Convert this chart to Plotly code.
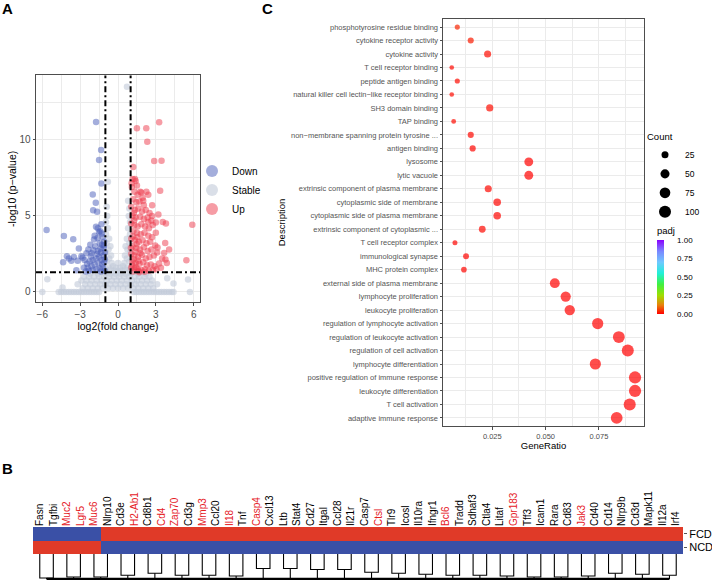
import math
import plotly.graph_objects as go

# ---------------- Panel A : volcano data ----------------
down_x = [-1.74, -1.34, -1.50, -1.32, -2.00, -1.76, -1.97, -1.66, -1.32, -5.66, -4.29, -3.55,
          -1.74, -1.50, -1.62, -3.10, -2.20, -2.35, -2.50, -3.50, -3.90, -2.90, -2.65, -3.30,
          -1.40, -1.20, -1.10, -1.25, -1.45, -1.80, -1.95, -2.10, -1.60, -1.35, -1.15, -1.50,
          -1.75, -2.00, -2.25, -2.45, -1.30, -1.10, -1.55, -1.85, -2.10, -2.70, -1.20, -1.45,
          -1.70, -2.00, -2.30, -1.05, -1.35, -2.55, -1.15, -1.05, -1.25, -1.65, -2.80, -3.20,
          -1.90, -1.28, -1.12, -1.38, -1.05, -2.15, -4.35, -4.05, -3.70, -1.60, -1.85, -2.40]
down_y = [11.19, 9.34, 8.68, 7.14, 6.42, 5.87, 5.38, 5.27, 4.46, 4.07, 3.69, 3.47,
          4.29, 3.95, 3.55, 2.86, 3.10, 2.80, 2.55, 2.30, 2.20, 2.35, 2.10, 1.43,
          4.00, 3.60, 3.30, 3.10, 3.20, 3.00, 2.75, 2.55, 2.70, 2.60, 2.40, 2.30,
          2.20, 2.10, 2.00, 1.85, 2.10, 1.95, 1.90, 1.80, 1.70, 1.60, 1.60, 1.55,
          1.50, 1.45, 1.40, 1.40, 1.35, 1.35, 2.90, 2.60, 1.80, 2.50, 2.25, 2.05,
          3.45, 3.85, 3.05, 2.85, 2.15, 2.35, 1.95, 2.35, 2.05, 4.20, 3.70, 1.60]

up_x = [1.50, 2.24, 3.26, 2.32, 2.87, 3.45, 1.21, 1.16, 1.34, 1.76, 3.34, 2.71, 5.89, 3.55,
        3.80, 3.00, 2.40, 3.74, 3.13, 3.66, 3.76, 3.87, 3.26, 5.42,
        1.10, 1.30, 1.55, 1.85, 1.20, 1.45, 1.70, 2.00, 1.05, 1.35, 1.60, 1.90, 2.20, 2.50,
        2.05, 1.15, 1.40, 1.75, 2.05, 2.35, 2.65, 1.05, 1.30, 1.55, 1.85, 2.15, 2.45, 2.75,
        1.20, 1.50, 1.80, 2.10, 2.40, 2.70, 3.00, 1.05, 1.35, 1.65, 1.95, 2.25, 2.55, 1.15,
        1.45, 1.75, 2.05, 2.35, 2.65, 1.05, 1.30, 1.60, 1.90, 2.20, 2.50, 2.85, 1.15, 1.40,
        1.70, 2.00, 2.30, 2.60, 2.90, 1.05, 1.30, 1.55, 1.85, 2.15, 2.45, 2.75, 3.05, 1.20,
        1.65, 2.10, 1.08, 1.40, 1.50, 2.40, 2.70, 3.20, 1.25, 4.05, 3.50, 3.40, 2.95, 3.10,
        2.25, 1.95, 1.12, 1.22, 1.38, 1.48, 1.62, 1.78, 1.18, 1.42, 1.68, 1.28, 1.52, 1.02]
up_y = [10.77, 10.77, 11.16, 9.89, 8.62, 8.64, 8.22, 7.43, 7.43, 6.59, 6.66, 5.71, 4.42, 4.60,
        4.50, 4.57, 4.60, 3.23, 2.92, 2.57, 2.13, 1.91, 1.87, 2.09,
        6.90, 6.60, 6.40, 6.55, 6.10, 5.90, 5.95, 6.00, 5.60, 5.40, 5.50, 5.30, 5.40, 5.20,
        5.70, 5.00, 4.90, 4.95, 4.80, 4.90, 4.70, 4.50, 4.40, 4.30, 4.45, 4.30, 4.20, 4.40,
        4.00, 3.90, 3.80, 3.90, 3.70, 3.60, 3.90, 3.50, 3.40, 3.30, 3.40, 3.20, 3.30, 3.00,
        2.90, 2.80, 2.95, 2.70, 2.80, 2.50, 2.40, 2.30, 2.45, 2.20, 2.30, 2.40, 2.00, 1.90,
        1.85, 1.95, 1.75, 1.80, 1.70, 1.60, 1.55, 1.50, 1.45, 1.50, 1.40, 1.45, 1.50, 1.35,
        1.38, 1.33, 7.15, 7.30, 7.00, 6.40, 5.00, 5.10, 5.20, 2.80, 2.20, 1.60, 3.05, 2.60,
        6.60, 6.20, 1.75, 2.15, 2.65, 3.15, 2.05, 2.55, 3.65, 1.65, 1.30, 4.70, 3.60, 2.90]

stable_x = [-6.0, -4.7, -4.5, -4.3, -4.1, -3.9, -3.7, -3.5, -3.3, -3.1, -2.9, -2.7, -2.5, -2.3,
            -2.1, -1.9, -1.7, -1.5, 1.25, 1.45, 1.65, 1.85, 2.05, 2.25, 2.45, 2.65, 2.85, 3.05,
            3.25, 3.45, 3.65, 3.85, 4.05, 4.25, 4.40, 5.70,
            -2.8, -2.4, -2.0, -1.6, -1.2, -0.8, -0.4, 0.0, 0.4, 0.8, 1.2, 1.6, 2.0, 2.4, 2.8,
            -3.2, -2.6, -2.2, -1.8, -1.4, -1.0, -0.6, -0.2, 0.2, 0.6, 1.0, 1.4, 1.8, 2.2, 2.6, 3.1,
            -2.9, -2.5, -2.1, -1.7, -1.3, -0.9, -0.5, -0.1, 0.3, 0.7, 1.1, 1.5, 1.9, 2.3, 2.7,
            -2.7, -2.3, -1.9, -1.5, -1.1, -0.7, -0.3, 0.1, 0.5, 0.9, 1.3, 1.7, 2.1, 2.5,
            -2.2, -1.6, -1.0, -0.6, -0.2, 0.2, 0.6, 1.0, 1.6, 2.2,
            -5.6, -4.4, 3.9, 4.4, 5.55,
            -0.95, -0.75, -0.55, -0.90, -0.70, -0.50, -0.95, -0.75, -0.55, -0.90, -0.70, -0.95,
            -0.80, -0.95, -0.85, -0.80, -0.90, -0.60, -0.40, -0.30,
            0.95, 0.75, 0.55, 0.90, 0.70, 0.50, 0.95, 0.75, 0.55, 0.90, 0.70, 0.95,
            0.80, 0.95, 0.85, 0.71, 0.90, 0.60, 0.40, 0.30, 0.80,
            0.0, -0.15, 0.15, 0.0]
stable_y = [0, 0, 0, 0, 0, 0, 0, 0, 0, 0, 0, 0, 0, 0,
            0, 0, 0, 0, 0, 0, 0, 0, 0, 0, 0, 0, 0, 0,
            0, 0, 0, 0, 0, 0, 0, 0,
            0.25, 0.25, 0.25, 0.25, 0.25, 0.25, 0.25, 0.25, 0.25, 0.25, 0.25, 0.25, 0.25, 0.25, 0.25,
            0.5, 0.5, 0.5, 0.5, 0.5, 0.5, 0.5, 0.5, 0.5, 0.5, 0.5, 0.5, 0.5, 0.5, 0.5, 0.5,
            0.75, 0.75, 0.75, 0.75, 0.75, 0.75, 0.75, 0.75, 0.75, 0.75, 0.75, 0.75, 0.75, 0.75, 0.75,
            1.0, 1.0, 1.0, 1.0, 1.0, 1.0, 1.0, 1.0, 1.0, 1.0, 1.0, 1.0, 1.0, 1.0,
            1.2, 1.2, 1.2, 1.2, 1.2, 1.2, 1.2, 1.2, 1.2, 1.2,
            0.84, 0.30, 0.90, 0.55, 0.82,
            1.5, 1.6, 1.5, 2.0, 2.2, 1.9, 2.6, 2.8, 2.4, 3.2, 3.5, 3.8,
            4.2, 4.6, 5.0, 7.25, 5.6, 3.0, 1.7, 1.4,
            1.5, 1.6, 1.5, 2.0, 2.2, 1.9, 2.6, 2.8, 2.4, 3.2, 3.5, 3.8,
            4.2, 4.6, 5.0, 13.5, 5.5, 3.0, 1.7, 1.4, 6.0,
            1.4, 1.6, 1.6, 1.9]

fc_cut = 1.0
p_cut = 0.05

# ---------------- Panel C : GO dot plot data ----------------
go_terms = [
    "phosphotyrosine residue binding",
    "cytokine receptor activity",
    "cytokine activity",
    "T cell receptor binding",
    "peptide antigen binding",
    "natural killer cell lectin\u2212like receptor binding",
    "SH3 domain binding",
    "TAP binding",
    "non\u2212membrane spanning protein tyrosine ...",
    "antigen binding",
    "lysosome",
    "lytic vacuole",
    "extrinsic component of plasma membrane",
    "cytoplasmic side of membrane",
    "cytoplasmic side of plasma membrane",
    "extrinsic component of cytoplasmic ...",
    "T cell receptor complex",
    "immunological synapse",
    "MHC protein complex",
    "external side of plasma membrane",
    "lymphocyte proliferation",
    "leukocyte proliferation",
    "regulation of lymphocyte activation",
    "regulation of leukocyte activation",
    "regulation of cell activation",
    "lymphocyte differentiation",
    "positive regulation of immune response",
    "leukocyte differentiation",
    "T cell activation",
    "adaptive immune response",
]
gene_ratio = [0.0086, 0.0149, 0.0228, 0.0060, 0.0086, 0.0060, 0.0238, 0.0069, 0.0149, 0.0158,
              0.0421, 0.0421, 0.0231, 0.0273, 0.0273, 0.0203, 0.0075, 0.0127, 0.0117, 0.0543,
              0.0594, 0.0613, 0.0744, 0.0843, 0.0885, 0.0733, 0.0919, 0.0919, 0.0894, 0.0833]
go_count = [10, 17, 26, 7, 10, 7, 27, 8, 17, 18,
            48, 48, 26, 31, 31, 23, 9, 15, 13, 62,
            68, 70, 85, 97, 101, 84, 105, 105, 102, 95]
go_padj = [0.035, 0.025, 0.012, 0.008, 0.010, 0.010, 0.012, 0.010, 0.008, 0.006,
           0.002, 0.002, 0.008, 0.006, 0.006, 0.008, 0.006, 0.004, 0.004, 0.001,
           0.001, 0.001, 0.0005, 0.0003, 0.0003, 0.0005, 0.0002, 0.0002, 0.0002, 0.0002]
count_breaks = [25, 50, 75, 100]
padj_breaks = [0.0, 0.25, 0.5, 0.75, 1.0]

# ---------------- Panel B : heatmap data ----------------
genes = ["Fasn", "Tgfbi", "Muc2", "Lgr5", "Muc6", "Nlrp10", "Cd3e", "H2-Ab1", "Cd8b1", "Cd4",
         "Zap70", "Cd3g", "Mmp3", "Ccl20", "Il18", "Tnf", "Casp4", "Cxcl13", "Ltb", "Stat4",
         "Cd27", "Itgal", "Ccl28", "Il21r", "Casp7", "Ctsl", "Tlr9", "Icosl", "Il10ra", "Ifngr1",
         "Bcl6", "Tradd", "Sdhaf3", "Ctla4", "Litaf", "Gpr183", "Tff3", "Icam1", "Rara", "Cd83",
         "Jak3", "Cd40", "Cd14", "Nlrp9b", "Cd3d", "Mapk11", "Il12a", "Irf4"]
highlight_genes = ["Muc2", "Lgr5", "Muc6", "H2-Ab1", "Cd4", "Zap70", "Mmp3", "Il18", "Casp4",
                   "Ctsl", "Bcl6", "Gpr183", "Jak3"]
groups = ["FCD", "NCD"]
fcd_values = [-1, -1, -1, -1, -1, 1, 1, 1, 1, 1, 1, 1, 1, 1, 1, 1, 1, 1, 1, 1, 1, 1, 1, 1,
              1, 1, 1, 1, 1, 1, 1, 1, 1, 1, 1, 1, 1, 1, 1, 1, 1, 1, 1, 1, 1, 1, 1, 1]
ncd_values = [1, 1, 1, 1, 1, -1, -1, -1, -1, -1, -1, -1, -1, -1, -1, -1, -1, -1, -1, -1, -1, -1, -1, -1,
              -1, -1, -1, -1, -1, -1, -1, -1, -1, -1, -1, -1, -1, -1, -1, -1, -1, -1, -1, -1, -1, -1, -1, -1]
# linkage heights of adjacent leaf pairs (root = 1)
dendro_pair_height = [0.96, 0.92, 0.92, 0.85, 0.77, 0.85, 0.85, 0.88, 0.58, 0.58, 0.62, 0.62,
                      0.73, 0.77, 0.81, 0.85, 0.85, 0.88, 0.92, 0.92, 0.88, 0.77, 0.81, 0.85]
dendro_root = 1.0

# ---------------- styling ----------------
W, H = 712, 581
FONT = "Liberation Sans, Arial, Helvetica, sans-serif"
GRID = "#ebebeb"
BORDER = "#4d4d4d"
TXT = "#4d4d4d"


def px_x(p):
    return p / W


def px_y(p):
    return 1 - p / H


fig = go.Figure()

# ---- Panel A traces ----
fig.add_trace(go.Scatter(x=stable_x, y=stable_y, mode="markers", name="Stable", legendrank=2,
                         marker=dict(size=6.5, color="#c2cad8", opacity=0.6, line=dict(width=0)),
                         xaxis="x", yaxis="y", legend="legend", hoverinfo="skip"))
fig.add_trace(go.Scatter(x=down_x, y=down_y, mode="markers", name="Down", legendrank=1,
                         marker=dict(size=6.5, color="#4a5dba", opacity=0.5, line=dict(width=0)),
                         xaxis="x", yaxis="y", legend="legend"))
fig.add_trace(go.Scatter(x=up_x, y=up_y, mode="markers", name="Up", legendrank=3,
                         marker=dict(size=6.5, color="#ee3a4c", opacity=0.5, line=dict(width=0)),
                         xaxis="x", yaxis="y", legend="legend"))


def dot_size(c):
    return 2.0 + math.sqrt(c)


# ---- Panel C traces ----
fig.add_trace(go.Scatter(
    x=gene_ratio, y=go_terms, mode="markers", showlegend=False,
    marker=dict(size=[dot_size(c) for c in go_count], color=go_padj, cmin=0, cmax=1,
                colorscale=[[0, "#ff0000"], [0.12, "#e8800a"], [0.25, "#a0dd00"], [0.4, "#40f040"],
                            [0.55, "#20f0d8"], [0.7, "#70c8ff"], [0.85, "#7a86ff"], [1, "#8a00ff"]],
                line=dict(width=0),
                colorbar=dict(title=dict(text="padj", side="top", font=dict(size=9.5, family=FONT, color="black")),
                              x=px_x(657), xanchor="left", y=px_y(314), yanchor="bottom",
                              len=90, lenmode="pixels", thickness=7, thicknessmode="pixels",
                              xpad=0, ypad=0, outlinewidth=0,
                              tickvals=padj_breaks, ticktext=["%.2f" % v for v in padj_breaks],
                              ticks="outside", ticklen=12, tickcolor="rgba(255,255,255,0)",
                              tickfont=dict(size=8, family=FONT, color="black"))),
    xaxis="x2", yaxis="y2"))

for c in count_breaks:
    fig.add_trace(go.Scatter(x=[None], y=[None], mode="markers", name=str(c), legend="legend2",
                             marker=dict(size=dot_size(c), color="black"), xaxis="x2", yaxis="y2"))

# ---- Panel B traces ----
z = [ncd_values, fcd_values]
fig.add_trace(go.Heatmap(z=z, x=list(range(len(genes))), y=[0, 1], showscale=False,
                         zmin=-1, zmax=1,
                         colorscale=[[0, "#3a50a6"], [0.5, "#3a50a6"], [0.5, "#e03a28"], [1, "#e03a28"]],
                         xaxis="x3", yaxis="y3", hoverinfo="skip"))

DSCALE = 1.85
top = -0.5
root_y = top - dendro_root * DSCALE
dx, dy = [], []
for k, h in enumerate(dendro_pair_height):
    i, j = 2 * k, 2 * k + 1
    ym = top - h * DSCALE
    dx += [i, i, j, j, None]
    dy += [top, ym, ym, top, None]
    mid = (i + j) / 2
    dx += [mid, mid, None]
    dy += [ym, root_y, None]
fig.add_trace(go.Scatter(x=dx, y=dy, mode="lines", line=dict(color="black", width=1.1),
                         showlegend=False, xaxis="x3", yaxis="y3", hoverinfo="skip"))
fig.add_trace(go.Scatter(x=[0.5, len(genes) - 1.5], y=[root_y, root_y], mode="lines",
                         line=dict(color="black", width=2.2),
                         showlegend=False, xaxis="x3", yaxis="y3", hoverinfo="skip"))

ticktext_b = [('<span style="color:#e5201f">%s</span>' % g) if g in highlight_genes else g for g in genes]

# ---------------- layout ----------------
axA = dict(showline=True, mirror=True, linecolor=BORDER, linewidth=1, gridcolor=GRID, gridwidth=1,
           zeroline=False, ticks="outside", ticklen=2.5, tickcolor=BORDER, automargin=False,
           tickfont=dict(size=10, family=FONT, color=TXT))

fig.update_layout(
    width=W, height=H, margin=dict(l=0, r=0, t=0, b=0),
    paper_bgcolor="white", plot_bgcolor="white",
    font=dict(family=FONT, color="black"),
    xaxis=dict(axA, domain=[px_x(36), px_x(200)], range=[-6.5, 6.5], anchor="y",
               tickvals=[-6, -3, 0, 3, 6], ticktext=["\u22126", "\u22123", "0", "3", "6"],
               minor=dict(tickvals=[-4.5, -1.5, 1.5, 4.5], gridcolor=GRID, gridwidth=0.5, ticks=""),
               title=dict(text="log2(fold change)", font=dict(size=10.5, family=FONT), standoff=2)),
    yaxis=dict(axA, domain=[px_y(302.3), px_y(75.4)], range=[-0.68, 14.25], anchor="x",
               tickvals=[0, 5, 10],
               minor=dict(tickvals=[2.5, 7.5, 12.5], gridcolor=GRID, gridwidth=0.5, ticks=""),
               title=dict(text="-log10 (p\u2212value)", font=dict(size=10.5, family=FONT), standoff=0)),
    xaxis2=dict(axA, domain=[px_x(443), px_x(644)], range=[0.0019, 0.0961], anchor="y2",
                tickvals=[0.025, 0.05, 0.075], ticktext=["0.025", "0.050", "0.075"],
                minor=dict(tickvals=[0.0125, 0.0375, 0.0625, 0.0875], gridcolor=GRID, gridwidth=0.5, ticks=""),
                tickfont=dict(size=7.5, family=FONT, color=TXT),
                title=dict(text="GeneRatio", font=dict(size=9.5, family=FONT), standoff=1)),
    yaxis2=dict(axA, domain=[px_y(426), px_y(19)], anchor="x2", type="category",
                categoryorder="array", categoryarray=list(reversed(go_terms)),
                range=[-0.6, len(go_terms) - 0.4],
                tickfont=dict(size=7.5, family=FONT, color="#555555"),
                title=dict(text="Description", font=dict(size=9.5, family=FONT), standoff=3)),
    xaxis3=dict(domain=[px_x(33), px_x(683)], range=[-0.5, len(genes) - 0.5], anchor="y3",
                side="top", tickangle=-90, tickvals=list(range(len(genes))), ticktext=ticktext_b,
                tickfont=dict(size=10, family=FONT, color="black"), showgrid=False, zeroline=False,
                showline=False, ticks="", automargin=False),
    yaxis3=dict(domain=[px_y(580.3), px_y(527)], range=[-2.45, 1.5], anchor="x3", side="right",
                tickvals=[1, 0], ticktext=groups, showgrid=False, zeroline=False, showline=False,
                ticks="outside", ticklen=3, tickcolor="#555555",
                tickfont=dict(size=11, family=FONT, color="black"), automargin=False),
    legend=dict(x=px_x(192), xanchor="left", y=px_y(190), yanchor="middle",
                font=dict(size=10, family=FONT), itemsizing="constant", bgcolor="rgba(0,0,0,0)",
                tracegroupgap=0),
    legend2=dict(x=px_x(645), xanchor="left", y=px_y(128), yanchor="top",
                 title=dict(text="Count", font=dict(size=9.5, family=FONT)),
                 font=dict(size=8.5, family=FONT), itemsizing="trace", bgcolor="rgba(0,0,0,0)"),
    shapes=[
        dict(type="line", xref="x", yref="y domain", x0=-fc_cut, x1=-fc_cut, y0=0, y1=1,
             line=dict(color="black", width=2, dash="6px,3px,2px,3px")),
        dict(type="line", xref="x", yref="y domain", x0=fc_cut, x1=fc_cut, y0=0, y1=1,
             line=dict(color="black", width=2, dash="6px,3px,2px,3px")),
        dict(type="line", xref="x domain", yref="y", x0=0, x1=1,
             y0=-math.log10(p_cut), y1=-math.log10(p_cut),
             line=dict(color="black", width=2, dash="6px,3px,2px,3px")),
    ],
    annotations=[
        dict(text="<b>A</b>", x=px_x(0), y=px_y(-2), xref="paper", yref="paper", xanchor="left",
             yanchor="top", showarrow=False, font=dict(size=15, family=FONT, color="black")),
        dict(text="<b>C</b>", x=px_x(260), y=px_y(-2), xref="paper", yref="paper", xanchor="left",
             yanchor="top", showarrow=False, font=dict(size=15, family=FONT, color="black")),
        dict(text="<b>B</b>", x=px_x(0), y=px_y(458), xref="paper", yref="paper", xanchor="left",
             yanchor="top", showarrow=False, font=dict(size=15, family=FONT, color="black")),
    ],
)

fig.write_html("out.html", config={"displayModeBar": False},
               post_script="document.body.style.margin='0px';document.body.style.overflow='hidden';")
